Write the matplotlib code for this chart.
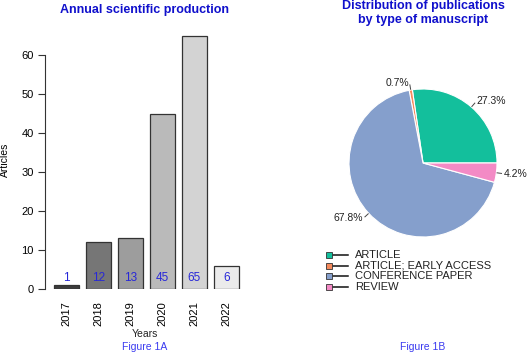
import numpy as np
import matplotlib
matplotlib.use("Agg")
import matplotlib.pyplot as plt

plt.rcParams['font.family'] = ['Liberation Sans', 'DejaVu Sans']

years = ["2017", "2018", "2019", "2020", "2021", "2022"]
articles = [1, 12, 13, 45, 65, 6]
bar_colors = ["#3c3c3c", "#767676", "#9d9d9d", "#bababa", "#d3d3d3", "#ebebeb"]

doc_types = ["ARTICLE", "ARTICLE; EARLY ACCESS", "CONFERENCE PAPER", "REVIEW"]
shares = [27.3, 0.7, 67.8, 4.2]
pie_colors = ["#13bf9c", "#f58a5c", "#859fcc", "#f38ac5"]

W, H = 527, 354
fig = plt.figure(figsize=(W / 100, H / 100), dpi=100)

# ---------- Left: bar chart ----------
ax = fig.add_axes([45 / W, (H - 289) / H, 200 / W, 257.4 / H])
x = np.arange(len(years))
ax.bar(x, articles, width=0.8, color=bar_colors, edgecolor="#333333", linewidth=0.9)
ax.set_xlim(-0.672, 5.58)
ax.set_ylim(0, 66)
for s in ["top", "right", "bottom"]:
    ax.spines[s].set_visible(False)
ax.spines["left"].set_bounds(0, 60)
ax.spines["left"].set_color("#333333")
ax.set_yticks([0, 10, 20, 30, 40, 50, 60])
ax.tick_params(axis="y", length=5, width=0.8, color="#333333", labelsize=8, pad=3)
ax.set_xticks(x)
ax.set_xticklabels(years, rotation=90, fontsize=8)
ax.tick_params(axis="x", length=0, pad=9)
for xi, v in zip(x, articles):
    ax.text(xi, 2.8, str(v), ha="center", va="center", color="#2727d8", fontsize=8.5)
ax.set_ylabel("Articles", fontsize=7.5, labelpad=8)

# ---------- Right: pie chart ----------
cx, cy, r = 423, 163, 74
side = 2.5 * r
pax = fig.add_axes([(cx - side / 2) / W, (H - cy - side / 2) / H, side / W, side / H])
wedges, _ = pax.pie(shares, colors=pie_colors, startangle=0, counterclock=True,
                    wedgeprops=dict(edgecolor="white", linewidth=0.8))
pax.set_xlim(-1.25, 1.25)
pax.set_ylim(-1.25, 1.25)
pax.set_aspect("equal")
for w, val in zip(wedges, shares):
    ang = np.deg2rad((w.theta1 + w.theta2) / 2)
    c, s_ = np.cos(ang), np.sin(ang)
    pax.plot([1.01 * c, 1.07 * c], [1.01 * s_, 1.07 * s_], color="#444444", lw=0.7)
    pax.text(1.1 * c, 1.1 * s_, f"{val:.1f}%", ha="left" if c > 0 else "right",
             va="center", fontsize=7.5, color="#222222")

# ---------- Overlay for titles and legend ----------
ov = fig.add_axes([0, 0, 1, 1])
ov.set_xlim(0, W)
ov.set_ylim(H, 0)
ov.axis("off")
ov.patch.set_alpha(0)

ov.text(145, 10, "Annual scientific production", ha="center", va="center",
        fontsize=9, fontweight="bold", color="#1010cc")
ov.text(145, 334, "Years", ha="center", va="center", fontsize=7.5, color="#222222")
ov.text(145, 347, "Figure 1A", ha="center", va="center", fontsize=7.5, color="#3a3af0")

ov.text(423, 13, "Distribution of publications\nby type of manuscript", ha="center",
        va="center", fontsize=9, fontweight="bold", color="#1010cc", linespacing=1.25)
ov.text(423, 347, "Figure 1B", ha="center", va="center", fontsize=7.5, color="#3a3af0")

for i, (lab, col) in enumerate(zip(doc_types, pie_colors)):
    yy = 255 + i * 10.5
    ov.plot([329, 348], [yy, yy], color="#111111", lw=1.1, zorder=2)
    ov.plot([329], [yy], marker="s", markersize=4.5, markerfacecolor=col,
            markeredgecolor="#333333", markeredgewidth=0.6, zorder=3)
    ov.text(355, yy, lab, ha="left", va="center", fontsize=8, color="#222222")

fig.savefig("out.png", dpi=100)
